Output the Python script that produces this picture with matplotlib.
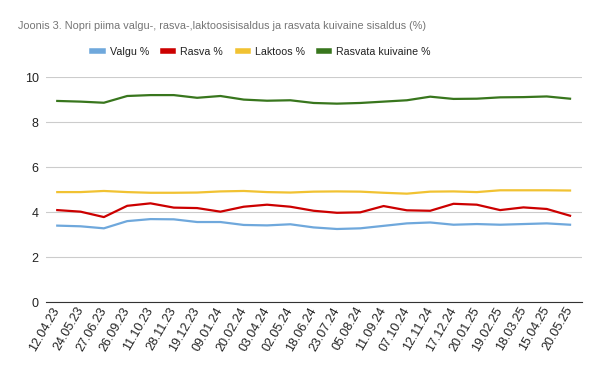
import matplotlib
matplotlib.use("Agg")
import matplotlib.pyplot as plt
from matplotlib.lines import Line2D

plt.rcParams['font.family'] = ['Liberation Sans', 'DejaVu Sans']

# Proovivõtu kuupäevad
dates = ["12.04.23", "24.05.23", "27.06.23", "26.09.23", "11.10.23", "28.11.23",
         "19.12.23", "09.01.24", "20.02.24", "03.04.24", "02.05.24", "18.06.24",
         "23.07.24", "05.08.24", "11.09.24", "07.10.24", "12.11.24", "17.12.24",
         "20.01.25", "19.02.25", "18.03.25", "15.04.25", "20.05.25"]

valgu = [3.41, 3.38, 3.29, 3.61, 3.70, 3.69, 3.57, 3.57, 3.44, 3.42, 3.47, 3.33,
         3.26, 3.29, 3.40, 3.51, 3.55, 3.45, 3.48, 3.45, 3.48, 3.51, 3.45]
rasva = [4.10, 4.03, 3.79, 4.29, 4.40, 4.21, 4.19, 4.03, 4.25, 4.34, 4.25, 4.07,
         3.98, 4.00, 4.28, 4.09, 4.07, 4.38, 4.34, 4.10, 4.22, 4.15, 3.85]
laktoos = [4.90, 4.90, 4.95, 4.90, 4.87, 4.87, 4.88, 4.93, 4.95, 4.90, 4.88, 4.92,
           4.93, 4.92, 4.87, 4.83, 4.92, 4.93, 4.90, 4.98, 4.98, 4.98, 4.97]
kuivaine = [8.95, 8.92, 8.87, 9.17, 9.21, 9.21, 9.09, 9.17, 9.01, 8.96, 8.98, 8.86,
            8.83, 8.86, 8.92, 8.98, 9.14, 9.04, 9.05, 9.11, 9.12, 9.15, 9.05]

series = [("Valgu %", valgu, "#6fa8dc"),
          ("Rasva %", rasva, "#cc0000"),
          ("Laktoos %", laktoos, "#f1c232"),
          ("Rasvata kuivaine %", kuivaine, "#38761d")]

fig = plt.figure(figsize=(6, 3.71), dpi=100)
ax = fig.add_axes([0.076, 0.185, 0.8935, 0.6066])

x = list(range(len(dates)))
for name, vals, col in series:
    ax.plot(x, vals, color=col, lw=1.6, solid_joinstyle='round')

ax.set_xlim(-0.5, len(dates) - 0.5)
ax.set_ylim(0, 10)
ax.set_yticks([0, 2, 4, 6, 8, 10])
ax.grid(axis='y', color='#cccccc', lw=0.8)
ax.set_axisbelow(True)
for s in ['top', 'right', 'left']:
    ax.spines[s].set_visible(False)
ax.spines['bottom'].set_color('#333333')
ax.tick_params(axis='y', length=0, pad=5, labelsize=9, labelcolor='#222222')
ax.tick_params(axis='x', length=0, pad=4, labelsize=9, labelcolor='#222222')
ax.set_xticks(x)
ax.set_xticklabels(dates, rotation=60, ha='right', rotation_mode='anchor', va='center')

fig.text(0.03, 0.931, "Joonis 3. Nopri piima valgu-, rasva-,laktoosisisaldus ja rasvata kuivaine sisaldus (%)",
         fontsize=7.8, color='#757575', va='center')

handles = [Line2D([0], [0], color=c, lw=4) for _, _, c in series]
fig.legend(handles, [n for n, _, _ in series], loc='center', bbox_to_anchor=(0.436, 0.861),
           ncol=4, frameon=False, fontsize=7.7, handlelength=0.95, handletextpad=0.65,
           columnspacing=1.35, labelcolor='#222222')

fig.savefig("out.png", dpi=100)
